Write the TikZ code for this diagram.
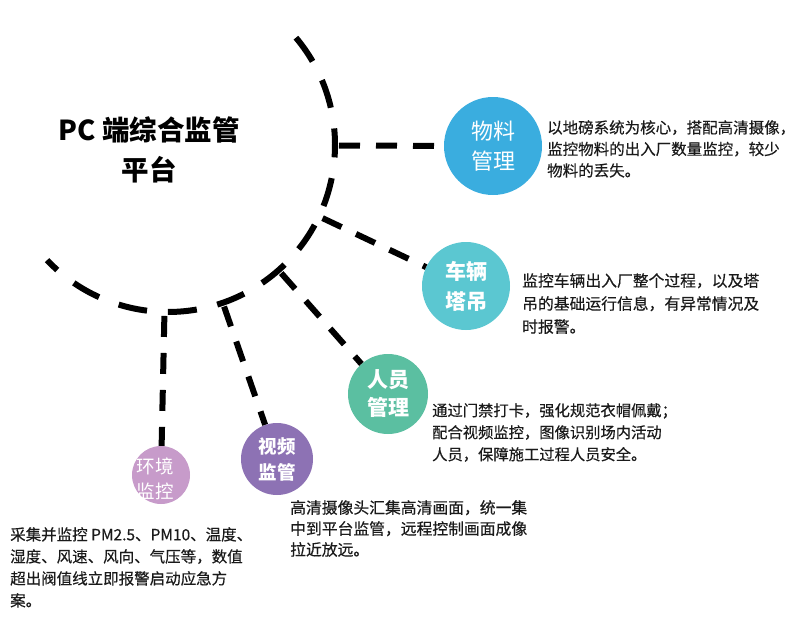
\documentclass[tikz,border=0pt]{standalone}
\usepackage{fontspec}
\setmainfont{Noto Sans CJK SC}
\newfontfamily\descfont{Noto Sans CJK SC}[FakeBold=0.4]
\usetikzlibrary{calc}
\definecolor{cWL}{HTML}{3AADDF}
\definecolor{cCL}{HTML}{5BC7D1}
\definecolor{cRY}{HTML}{5BBFA1}
\definecolor{cSP}{HTML}{8D72B4}
\definecolor{cHJ}{HTML}{C79BCA}
\definecolor{txt}{HTML}{1A1A1A}
\begin{document}
\begin{tikzpicture}[x=1pt,y=-1pt,
  hub/.style={draw=black, line width=6pt, dash pattern=on 29pt off 21pt},
  spoke/.style={draw=black, line width=6pt, dash pattern=on 21pt off 16pt},
  bubble/.style={circle, inner sep=0pt, text=white, align=center},
  desc/.style={anchor=north west, inner sep=0pt, align=left, text=txt},
]
\useasboundingbox (0,0) rectangle (800,642);
\coordinate (O) at (168,145);
\draw[hub] (O) ++(-40:167) arc[start angle=-40, end angle=136.4, radius=167];

\node[bubble, fill=cWL, minimum size=98pt, font=\fontsize{22}{30}\selectfont] (wl) at (493,146) {物料\\管理};
\node[bubble, fill=cCL, minimum size=88pt, font=\bfseries\fontsize{21}{30}\selectfont] (cl) at (466,286) {车辆\\塔吊};
\node[bubble, fill=cRY, minimum size=80pt, font=\bfseries\fontsize{21}{28}\selectfont] (ry) at (388,394) {人员\\管理};
\node[bubble, fill=cSP, minimum size=72pt, font=\bfseries\fontsize{18.5}{26}\selectfont] (sp) at (277,459) {视频\\监管};
\node[bubble, fill=cHJ, minimum size=58pt] (hj) at (161,475) {};
\node[text=white, align=center, inner sep=0pt, font=\fontsize{18.5}{25}\selectfont] (hjt) at (155,479) {环境\\监控};

\foreach \n in {wl,cl,ry,sp,hj} \draw[spoke] ($(O)!171pt!(\n)$) -- (\n);

\node[anchor=north, inner sep=0pt, align=center, font=\bfseries\fontsize{27.5}{40}\selectfont] (title) at (149,116) {PC 端综合监管\\平台};

\node[desc, font=\descfont\fontsize{15.5}{21.5}\selectfont] (wld) at (547,120) {以地磅系统为核心，搭配高清摄像，\\监控物料的出入厂数量监控，较少\\物料的丢失。};
\node[desc, font=\descfont\fontsize{15.8}{23}\selectfont] (cld) at (522,273) {监控车辆出入厂整个过程，以及塔\\吊的基础运行信息，有异常情况及\\时报警。};
\node[desc, font=\descfont\fontsize{15.3}{22}\selectfont] (ryd) at (432,403) {通过门禁打卡，强化规范衣帽佩戴；\\配合视频监控，图像识别场内活动\\人员，保障施工过程人员安全。};
\node[desc, font=\descfont\fontsize{15.8}{21}\selectfont] (spd) at (290,500) {高清摄像头汇集高清画面，统一集\\中到平台监管，远程控制画面成像\\拉近放远。};
\node[desc, font=\descfont\fontsize{15.5}{22}\selectfont] (hjd) at (10,527) {采集并监控 PM2.5、PM10、温度、\\湿度、风速、风向、气压等，数值\\超出阀值线立即报警启动应急方\\案。};
\end{tikzpicture}
\end{document}
